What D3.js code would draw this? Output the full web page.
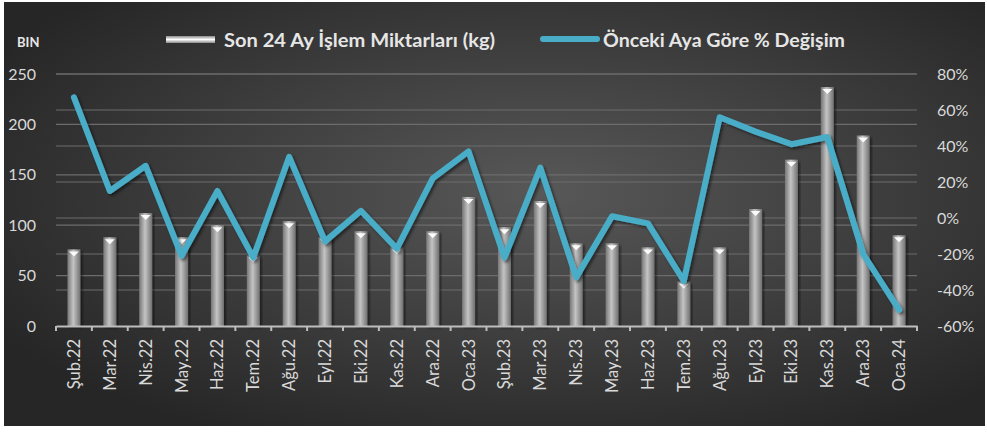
<!DOCTYPE html>
<html>
<head>
<meta charset="utf-8">
<script src="https://cdn.jsdelivr.net/npm/d3@7"></script>
<style>
  body { margin: 0; background: #fff; }
  svg text { font-family: Lato, "Open Sans", sans-serif; }
</style>
</head>
<body>
<div id="chart"></div>
<script>
// months shown on the x axis
var months = ["Şub.22","Mar.22","Nis.22","May.22","Haz.22","Tem.22","Ağu.22","Eyl.22","Eki.22","Kas.22","Ara.22","Oca.23",
              "Şub.23","Mar.23","Nis.23","May.23","Haz.23","Tem.23","Ağu.23","Eyl.23","Eki.23","Kas.23","Ara.23","Oca.24"];
// monthly amounts, thousand kg (BIN)
var amounts = [76, 88, 112, 88, 100, 70, 104, 88, 94, 78, 94, 128,
               98, 124, 82, 82, 78, 44, 78, 116, 165, 237, 189, 90];
// change vs previous month, %
var changes = [67, 15, 29, -21, 15, -22, 34, -13, 4, -17, 22, 37,
               -22, 28, -33, 1, -3, -35, 56, 48, 41, 45, -20, -51];
var leftTicks = [0, 50, 100, 150, 200, 250];
var rightTicks = [-60, -40, -20, 0, 20, 40, 60, 80];

var legendBar = "Son 24 Ay İşlem Miktarları (kg)";
var legendLine = "Önceki Aya Göre % Değişim";

var W = 987, H = 434;
var plot = {left: 56, right: 917, top: 74, bottom: 326};

var svg = d3.select("#chart").append("svg")
    .attr("width", W)
    .attr("height", H);

var defs = svg.append("defs");

var bg = defs.append("radialGradient").attr("id", "bg")
    .attr("cx", "55%").attr("cy", "45%").attr("r", "65%");
bg.append("stop").attr("offset", "0%").attr("stop-color", "#585858");
bg.append("stop").attr("offset", "100%").attr("stop-color", "#262626");

var barGrad = defs.append("linearGradient").attr("id", "barGrad")
    .attr("x1", "0%").attr("x2", "100%").attr("y1", "0%").attr("y2", "0%");
barGrad.append("stop").attr("offset", "0%").attr("stop-color", "#767676");
barGrad.append("stop").attr("offset", "45%").attr("stop-color", "#c4c4c4");
barGrad.append("stop").attr("offset", "100%").attr("stop-color", "#707070");

var legGrad = defs.append("linearGradient").attr("id", "legGrad")
    .attr("x1", "0%").attr("x2", "0%").attr("y1", "0%").attr("y2", "100%");
legGrad.append("stop").attr("offset", "0%").attr("stop-color", "#8a8a8a");
legGrad.append("stop").attr("offset", "50%").attr("stop-color", "#ffffff");
legGrad.append("stop").attr("offset", "100%").attr("stop-color", "#8a8a8a");

var shadow = defs.append("filter").attr("id", "shadow")
    .attr("x", "-20%").attr("y", "-20%").attr("width", "140%").attr("height", "140%");
shadow.append("feDropShadow").attr("dx", 2).attr("dy", 2).attr("stdDeviation", 1.5)
    .attr("flood-color", "#000").attr("flood-opacity", 0.5);

// background panel
svg.append("rect")
    .attr("x", 4).attr("y", 2)
    .attr("width", 981).attr("height", 424)
    .attr("fill", "url(#bg)");

// scales
var x = d3.scaleBand().domain(months).range([plot.left, plot.right]);
var y = d3.scaleLinear().domain([0, 250]).range([plot.bottom, plot.top]);
var y2 = d3.scaleLinear().domain([-60, 80]).range([plot.bottom, plot.top]);

// gridlines for both axes
var grid = svg.append("g");
grid.selectAll(".gl")
    .data(leftTicks.filter(function(d) { return d > 0; }))
    .enter().append("line")
    .attr("x1", plot.left).attr("x2", plot.right)
    .attr("y1", function(d) { return y(d); })
    .attr("y2", function(d) { return y(d); })
    .attr("stroke", "#6c6c6c").attr("stroke-width", 1.2);
grid.selectAll(".gr")
    .data(rightTicks.filter(function(d) { return d > -60; }))
    .enter().append("line")
    .attr("x1", plot.left).attr("x2", plot.right)
    .attr("y1", function(d) { return y2(d); })
    .attr("y2", function(d) { return y2(d); })
    .attr("stroke", "#6c6c6c").attr("stroke-width", 1.2);

// bars
var bw = 13;
var bars = svg.append("g");
bars.selectAll(".bar")
    .data(amounts)
    .enter().append("rect")
    .attr("class", "bar")
    .attr("x", function(d, i) { return x(months[i]) + x.bandwidth() / 2 - bw / 2; })
    .attr("y", function(d) { return y(d); })
    .attr("width", bw)
    .attr("height", function(d) { return y(0) - y(d); })
    .attr("fill", "url(#barGrad)")
    .attr("filter", "url(#shadow)");
// white cap on top of each bar
bars.selectAll(".cap")
    .data(amounts)
    .enter().append("path")
    .attr("class", "cap")
    .attr("d", function(d, i) {
      var cx = x(months[i]) + x.bandwidth() / 2, ty = y(d);
      return "M" + (cx - 5) + "," + (ty + 2) + "L" + (cx + 5) + "," + (ty + 2) + "L" + cx + "," + (ty + 7) + "Z";
    })
    .attr("fill", "#ffffff")
    .attr("opacity", 0.95);

// x axis
var xAxis = svg.append("g")
    .attr("transform", "translate(0," + plot.bottom + ")")
    .call(d3.axisBottom(x).tickSize(0).tickFormat(""));
xAxis.select(".domain").attr("stroke", "#bdbdbd").attr("stroke-width", 2);
xAxis.selectAll(".bt")
    .data(d3.range(months.length + 1))
    .enter().append("line")
    .attr("x1", function(i) { return plot.left + i * x.step(); })
    .attr("x2", function(i) { return plot.left + i * x.step(); })
    .attr("y1", 0).attr("y2", 5)
    .attr("stroke", "#bdbdbd").attr("stroke-width", 2);
svg.append("g").selectAll("text")
    .data(months)
    .enter().append("text")
    .attr("transform", function(d) {
      return "translate(" + (x(d) + x.bandwidth() / 2 + 6) + "," + (plot.bottom + 13) + ") rotate(-90)";
    })
    .attr("text-anchor", "end")
    .attr("font-size", 16.5)
    .attr("fill", "#d9d9d9")
    .text(function(d) { return d; });

// left axis
var yAxis = svg.append("g")
    .attr("transform", "translate(39,0)")
    .call(d3.axisLeft(y).tickValues(leftTicks).tickSize(0));
yAxis.select(".domain").remove();
yAxis.selectAll("text").attr("font-size", 16).attr("fill", "#d9d9d9")
    .style("font-family", "Lato, sans-serif");

// right axis
var y2Axis = svg.append("g")
    .attr("transform", "translate(934,0)")
    .call(d3.axisRight(y2).tickValues(rightTicks).tickSize(0)
      .tickFormat(function(d) { return d + "%"; }));
y2Axis.select(".domain").remove();
y2Axis.selectAll("text").attr("font-size", 16).attr("fill", "#d9d9d9")
    .style("font-family", "Lato, sans-serif");

// unit label
svg.append("text")
    .attr("x", 17).attr("y", 47)
    .attr("font-size", 13).attr("font-weight", "bold")
    .attr("fill", "#e6e6e6")
    .text("BIN");

// change line
var line = d3.line()
    .x(function(d, i) { return x(months[i]) + x.bandwidth() / 2; })
    .y(function(d) { return y2(d); });
svg.append("path")
    .datum(changes)
    .attr("d", line)
    .attr("fill", "none")
    .attr("stroke", "#4aadc8")
    .attr("stroke-width", 6)
    .attr("stroke-linejoin", "round")
    .attr("stroke-linecap", "round")
    .attr("filter", "url(#shadow)");

// legend
var leg = svg.append("g");
leg.append("rect")
    .attr("x", 166).attr("y", 36)
    .attr("width", 49).attr("height", 7)
    .attr("fill", "url(#legGrad)");
leg.append("text")
    .attr("x", 224).attr("y", 47)
    .attr("font-size", 19).attr("font-weight", "bold")
    .attr("fill", "#e6e6e6")
    .attr("textLength", 271).attr("lengthAdjust", "spacingAndGlyphs")
    .text(legendBar);
leg.append("line")
    .attr("x1", 543).attr("x2", 597)
    .attr("y1", 39).attr("y2", 39)
    .attr("stroke", "#4aadc8").attr("stroke-width", 6)
    .attr("stroke-linecap", "round");
leg.append("text")
    .attr("x", 603).attr("y", 47)
    .attr("font-size", 19).attr("font-weight", "bold")
    .attr("fill", "#e6e6e6")
    .attr("textLength", 242).attr("lengthAdjust", "spacingAndGlyphs")
    .text(legendLine);
</script>
</body>
</html>
